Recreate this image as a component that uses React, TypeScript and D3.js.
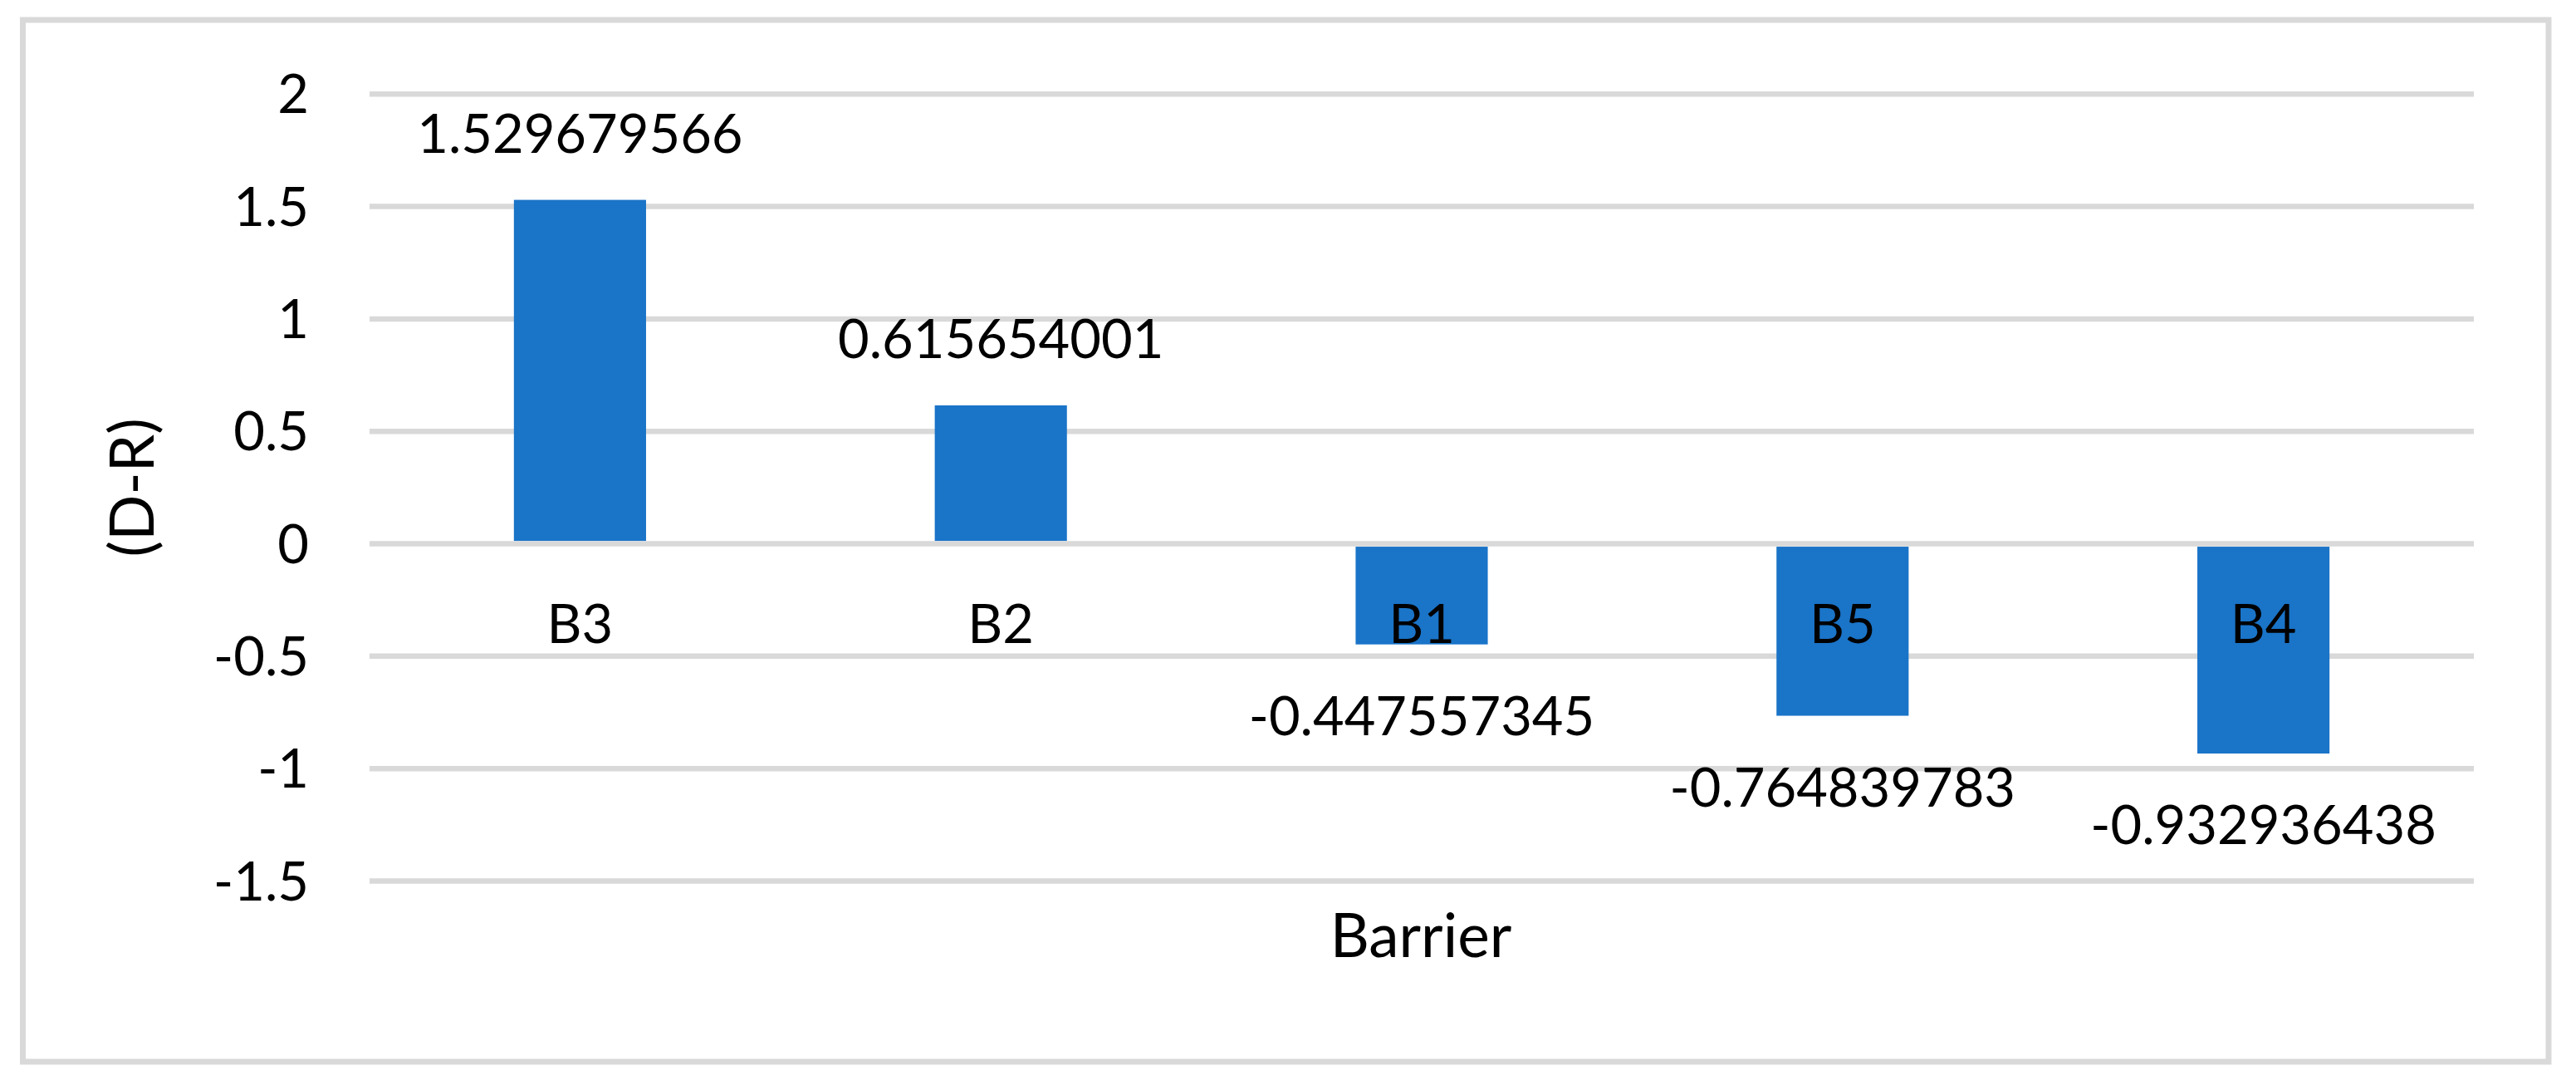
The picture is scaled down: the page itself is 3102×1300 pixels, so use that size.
import React from "react";
import * as d3 from "d3";

const categories = ["B3", "B2", "B1", "B5", "B4"];
const values = [1.529679566, 0.615654001, -0.447557345, -0.764839783, -0.932936438];
const yTicks = [-1.5, -1, -0.5, 0, 0.5, 1, 1.5, 2];
const xTitle = "Barrier";
const yTitle = "(D-R)";

const W = 3102;
const H = 1300;
const FONT = "Lato, 'Open Sans', 'Liberation Sans', sans-serif";
const BAR = "#1a74c8";
const GRID = "#d9d9d9";

export default function App() {
  const x = d3
    .scaleBand<string>()
    .domain(categories)
    .range([445, 2979])
    .paddingInner(0.686)
    .paddingOuter(0.343);
  const y = d3.scaleLinear().domain([-1.5, 2]).range([1060.5, 113.3]);
  const bw = x.bandwidth();
  const y0 = y(0);

  return (
    <div style={{ position: "absolute", left: 0, top: 0 }}>
      <svg width={W} height={H} style={{ display: "block", background: "#fff" }}>
        <rect x={0} y={0} width={W} height={H} fill="#fff" />
        <rect x={27.5} y={24} width={3069 - 27.5} height={1278 - 24} fill="none" stroke={GRID} strokeWidth={7} />
        {yTicks.map((t) => (
          <g key={t}>
            <line x1={445} x2={2979} y1={y(t)} y2={y(t)} stroke={GRID} strokeWidth={6.5} />
            <text
              x={372}
              y={y(t) + 23}
              textAnchor="end"
              fontFamily={FONT}
              fontSize={65}
              fill="#000"
            >
              {String(t)}
            </text>
          </g>
        ))}
        {categories.map((c, i) => {
          const v = values[i];
          const top = v >= 0 ? y(v) : y0 + 3.5;
          const bottom = v >= 0 ? y0 - 3.5 : y(v);
          const cx = (x(c) as number) + bw / 2;
          return (
            <g key={c}>
              <rect x={x(c)} y={top} width={bw} height={bottom - top} fill={BAR} />
            </g>
          );
        })}
        {categories.map((c, i) => {
          const v = values[i];
          const cx = (x(c) as number) + bw / 2;
          const labelY = v >= 0 ? y(v) - 57 : y(v) + 109;
          return (
            <g key={c + "-t"}>
              <text x={cx} y={y0 + 119} textAnchor="middle" fontFamily={FONT} fontSize={65} fill="#000">
                {c}
              </text>
              <text x={cx} y={labelY} textAnchor="middle" fontFamily={FONT} fontSize={65} fill="#000">
                {String(v)}
              </text>
            </g>
          );
        })}
        <text x={1711} y={1152} textAnchor="middle" fontFamily={FONT} fontSize={73} fill="#000">
          {xTitle}
        </text>
        <text
          transform={`translate(185, ${(y(2) + y(-1.5)) / 2}) rotate(-90)`}
          textAnchor="middle"
          fontFamily={FONT}
          fontSize={73}
          fill="#000"
        >
          {yTitle}
        </text>
      </svg>
    </div>
  );
}
